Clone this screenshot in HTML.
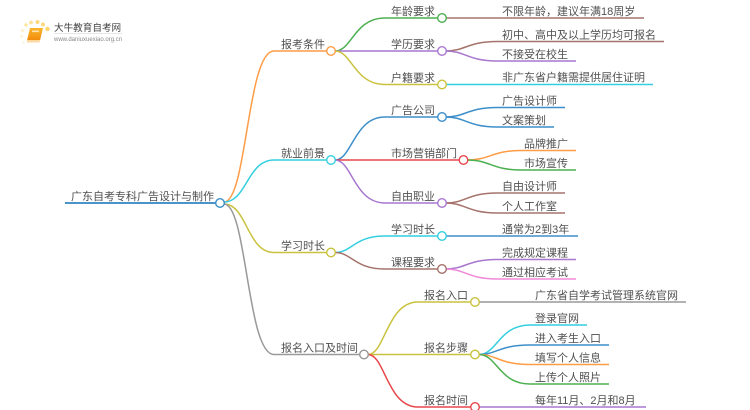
<!DOCTYPE html>
<html><head><meta charset="utf-8"><style>
html,body{margin:0;padding:0;background:#fff;width:750px;height:410px;overflow:hidden}
svg{display:block;filter:blur(.35px)}
text{font-family:"Liberation Sans","Noto Sans CJK SC",sans-serif;font-size:11px;fill:#505050}
path{fill:none;stroke-width:1.5}
circle{fill:#fff;stroke-width:1.4}
</style></head><body>
<svg width="750" height="410" viewBox="0 0 750 410" xmlns="http://www.w3.org/2000/svg">
<defs><linearGradient id="b" x1="0" y1="0" x2="0" y2="1"><stop offset="0" stop-color="#fbb62c"/><stop offset="1" stop-color="#f18a0c"/></linearGradient></defs>
<!-- logo -->
<g style="stroke:none">
<circle cx="26" cy="25" r="1.7" style="fill:#fde6a0;stroke:none"/>
<circle cx="31" cy="22.500" r="1.900" style="fill:#fde09a;stroke:none"/>
<circle cx="37.500" cy="22" r="2" style="fill:#fcd97e;stroke:none"/>
<circle cx="43" cy="24.500" r="2" style="fill:#fcd97e;stroke:none"/>
<circle cx="47.500" cy="29" r="2.200" style="fill:#fcd56e;stroke:none"/>
<circle cx="22.500" cy="30.500" r="1.400" style="fill:#feeec4;stroke:none"/>
<circle cx="21.500" cy="36.500" r="1.200" style="fill:#feeec4;stroke:none"/>
<circle cx="23.500" cy="42.500" r="1.100" style="fill:#fef2d4;stroke:none"/>
<polygon points="30,28 43,28 40,40.500 27,40.500" style="fill:url(#b)"/>
<polygon points="27,40 40,40 39.500,42.500 27,42.500" style="fill:#fbd9a0"/>
<rect x="32" y="30.500" width="7" height="1.600" style="fill:#fde3b0"/>
</g>
<text x="54" y="31" style="font-size:9.600px;fill:#444">大牛教育自考网</text>
<rect x="54" y="33" width="68" height="0.700" style="fill:#ddd"/>
<text x="54" y="41" style="font-size:6px;fill:#888">www.daniuxuexiao.org.cn</text>

<!-- root -->
<path d="M65 203H216" stroke="#4a94c9" style="stroke-width:2"/>
<!-- level 1 -->
<path d="M224 202C247 202 247 51 274 51H327" stroke="#ff9c46"/>
<path d="M224 202C247 202 247 160 274 160H327" stroke="#33cfe0"/>
<path d="M224 204C247 204 247 252.500 274 252.500H327" stroke="#c9c23e"/>
<path d="M224 204C247 204 247 354.500 274 354.500H360" stroke="#999"/>
<!-- level 2 -->
<path d="M335 51C352 51 354 18 385 18H438" stroke="#4cb050"/>
<path d="M335 51H438" stroke="#a877d0"/>
<path d="M335 51C352 51 354 84.500 385 84.500H438" stroke="#c9c23e"/>
<path d="M335 160C352 160 354 117 385 117H438" stroke="#3d8fc9"/>
<path d="M335 160H459" stroke="#e8474c"/>
<path d="M335 160C352 160 354 203 385 203H438" stroke="#a877d0"/>
<path d="M335 252.500C352 252.500 354 236 385 236H438" stroke="#33cfe0"/>
<path d="M335 252.500C352 252.500 354 269 385 269H438" stroke="#a5736b"/>
<path d="M368 354.500C385 354.500 387 302 418 302H471" stroke="#c9c23e"/>
<path d="M368 354.500H471" stroke="#c9c23e"/>
<path d="M368 354.500C385 354.500 387 407 418 407H471" stroke="#e8474c"/>
<!-- level 3 -->
<path d="M446 18H644" stroke="#a5736b"/>
<path d="M446 51C465 51 468 41.500 497 41.500H664" stroke="#a5736b"/>
<path d="M446 51C465 51 468 61 497 61H576" stroke="#a877d0"/>
<path d="M446 84.500H653" stroke="#33cfe0"/>
<path d="M446 117C465 117 468 107.500 497 107.500H565" stroke="#3d8fc9"/>
<path d="M446 117C465 117 468 127 497 127H554" stroke="#3d8fc9"/>
<path d="M467 160C490 160 492 150.500 521 150.500H576" stroke="#ff9c46"/>
<path d="M467 160C490 160 492 170 521 170H576" stroke="#4cb050"/>
<path d="M446 203C465 203 468 193 497 193H565" stroke="#a5736b"/>
<path d="M446 203C465 203 468 213 497 213H565" stroke="#a5736b"/>
<path d="M446 236H578" stroke="#3d8fc9"/>
<path d="M446 269C465 269 468 259.500 497 259.500H576" stroke="#a877d0"/>
<path d="M446 269C465 269 468 279 497 279H576" stroke="#f08ad8"/>
<path d="M479 302H686" stroke="#999"/>
<path d="M479 354.500C497 354.500 499 325 530 325H587" stroke="#33cfe0"/>
<path d="M479 354.500C497 354.500 499 345 530 345H609" stroke="#3d8fc9"/>
<path d="M479 354.500C497 354.500 499 364.500 530 364.500H609" stroke="#ff9c46"/>
<path d="M479 354.500C497 354.500 499 384 530 384H609" stroke="#4cb050"/>
<path d="M479 407H646" stroke="#a877d0"/>
<!-- nodes -->
<circle cx="220" cy="203" r="4.300" stroke="#3d8fc9"/>
<circle cx="331" cy="51" r="4.300" stroke="#ff9c46"/>
<circle cx="331" cy="160" r="4.300" stroke="#33cfe0"/>
<circle cx="331" cy="252.500" r="4.300" stroke="#c9c23e"/>
<circle cx="364" cy="354.500" r="4.300" stroke="#999"/>
<circle cx="442" cy="18" r="4.300" stroke="#4cb050"/>
<circle cx="442" cy="51" r="4.300" stroke="#a877d0"/>
<circle cx="442" cy="84.500" r="4.300" stroke="#c9c23e"/>
<circle cx="442" cy="117" r="4.300" stroke="#3d8fc9"/>
<circle cx="463.500" cy="160" r="4.300" stroke="#e8474c"/>
<circle cx="442" cy="203" r="4.300" stroke="#a877d0"/>
<circle cx="442" cy="236" r="4.300" stroke="#33cfe0"/>
<circle cx="442" cy="269" r="4.300" stroke="#a5736b"/>
<circle cx="475" cy="302" r="4.300" stroke="#c9c23e"/>
<circle cx="475" cy="354.500" r="4.300" stroke="#c9c23e"/>
<circle cx="475" cy="407" r="4.300" stroke="#e8474c"/>
<!-- labels -->
<text x="71" y="200">广东自考专科广告设计与制作</text>
<text x="281" y="48">报考条件</text>
<text x="281" y="157">就业前景</text>
<text x="281" y="249.500">学习时长</text>
<text x="281" y="351.500">报名入口及时间</text>
<text x="391" y="15">年龄要求</text>
<text x="391" y="48">学历要求</text>
<text x="391" y="81.500">户籍要求</text>
<text x="391" y="114">广告公司</text>
<text x="391" y="157">市场营销部门</text>
<text x="391" y="200">自由职业</text>
<text x="391" y="233">学习时长</text>
<text x="391" y="266">课程要求</text>
<text x="424" y="299">报名入口</text>
<text x="424" y="351.500">报名步骤</text>
<text x="424" y="404">报名时间</text>
<text x="502" y="15">不限年龄，建议年满18周岁</text>
<text x="502" y="38.500">初中、高中及以上学历均可报名</text>
<text x="502" y="58">不接受在校生</text>
<text x="502" y="81">非广东省户籍需提供居住证明</text>
<text x="502" y="104.500">广告设计师</text>
<text x="502" y="124">文案策划</text>
<text x="524" y="147.500">品牌推广</text>
<text x="524" y="167">市场宣传</text>
<text x="502" y="190">自由设计师</text>
<text x="502" y="210">个人工作室</text>
<text x="502" y="233">通常为2到3年</text>
<text x="502" y="256.500">完成规定课程</text>
<text x="502" y="276">通过相应考试</text>
<text x="535" y="299">广东省自学考试管理系统官网</text>
<text x="535" y="322">登录官网</text>
<text x="535" y="342">进入考生入口</text>
<text x="535" y="361.500">填写个人信息</text>
<text x="535" y="381">上传个人照片</text>
<text x="535" y="404">每年11月、2月和8月</text>
</svg>
</body></html>
